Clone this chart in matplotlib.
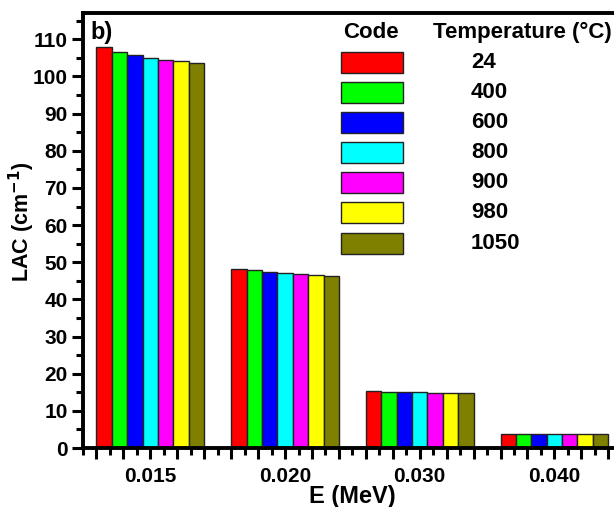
import numpy as np
import matplotlib.pyplot as plt
from matplotlib.patches import Rectangle
from matplotlib.ticker import MultipleLocator, FuncFormatter

plt.rcParams['font.family'] = ['Liberation Sans', 'DejaVu Sans']
plt.rcParams['font.weight'] = 'bold'
plt.rcParams['mathtext.default'] = 'bf'

energies = ["0.015", "0.020", "0.030", "0.040"]
temps = ["24", "400", "600", "800", "900", "980", "1050"]
colors = ["#FF0000", "#00FF00", "#0000FF", "#00FFFF", "#FF00FF", "#FFFF00", "#808000"]

# LAC values (cm^-1), one list per temperature, across the four energies
lac_24 = [108.0, 48.3, 15.4, 3.8]
lac_400 = [106.6, 47.8, 15.2, 3.8]
lac_600 = [105.9, 47.4, 15.1, 3.8]
lac_800 = [105.0, 47.1, 15.0, 3.8]
lac_900 = [104.5, 46.8, 14.9, 3.75]
lac_980 = [104.1, 46.6, 14.8, 3.75]
lac_1050 = [103.6, 46.4, 14.7, 3.75]
series = [lac_24, lac_400, lac_600, lac_800, lac_900, lac_980, lac_1050]

W, H = 614, 507
fig = plt.figure(figsize=(W / 100, H / 100), dpi=100)
ax = fig.add_axes([83 / W, 59 / H, 538.75 / W, 434.7 / H])

x = np.arange(len(energies))
bw = 0.8 / len(series)
for i, vals in enumerate(series):
    ax.bar(x - 0.4 + bw * (i + 0.5), vals, width=bw, color=colors[i],
           edgecolor='#222222', linewidth=1.0, zorder=2)

ax.set_xlim(-0.5, 3.5)
ax.set_ylim(0, 117)

ax.xaxis.set_major_locator(MultipleLocator(0.2))
ax.xaxis.set_minor_locator(MultipleLocator(0.1))
ax.xaxis.set_major_formatter(FuncFormatter(
    lambda v, p: energies[int(round(v))] if abs(v - round(v)) < 1e-6 and 0 <= round(v) < len(energies) else ""))
ax.yaxis.set_major_locator(MultipleLocator(10))
ax.yaxis.set_minor_locator(MultipleLocator(5))

ax.tick_params(axis='both', which='major', direction='out', length=8, width=2.2,
               labelsize=15, pad=3)
ax.tick_params(axis='both', which='minor', direction='out', length=5, width=2.2)
ax.tick_params(axis='x', which='major', pad=6)
for lab in ax.get_xticklabels() + ax.get_yticklabels():
    lab.set_fontweight('bold')

for s in ax.spines.values():
    s.set_linewidth(2.8)

ax.set_xlabel("E (MeV)", fontsize=17, fontweight='bold', labelpad=-1)
ax.set_ylabel("LAC (cm$^{-1}$)", fontsize=15.5, fontweight='bold')
ax.yaxis.set_label_coords(-0.086, 0.52)

ax.text(90 / W, 1 - 32 / H, "b)", transform=fig.transFigure, fontsize=17,
        fontweight='bold', va='center', ha='left')

# legend drawn as a table: colour code + temperature
fig.text(370.5 / W, 1 - 32 / H, "Code", fontsize=16, fontweight='bold', ha='center', va='center')
fig.text(612 / W, 1 - 32 / H, "Temperature (\u00b0C)", fontsize=16, fontweight='bold',
         ha='right', va='center')
for i, (t, c) in enumerate(zip(temps, colors)):
    yc = 62 + 30.2 * i
    fig.patches.append(Rectangle((341 / W, 1 - (yc + 10.5) / H), 62 / W, 21 / H,
                                 transform=fig.transFigure, facecolor=c,
                                 edgecolor='#222222', linewidth=1.0))
    fig.text(471 / W, 1 - yc / H, t, fontsize=16, fontweight='bold', ha='left', va='center')

fig.savefig("out.png", dpi=100)
